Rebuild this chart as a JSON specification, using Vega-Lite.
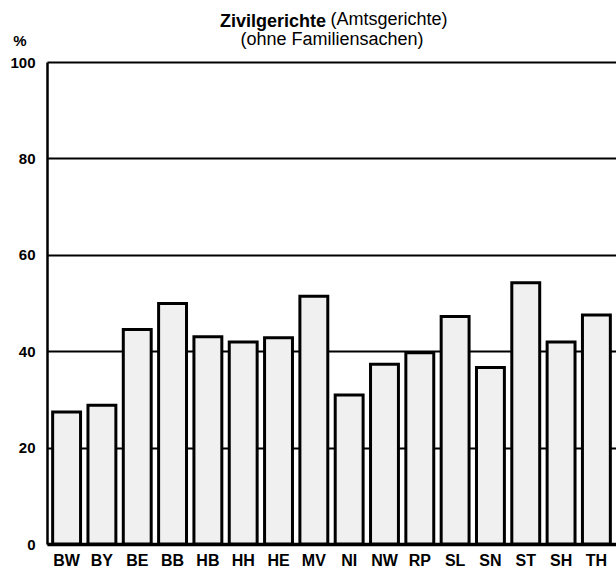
{
  "$schema": "https://vega.github.io/schema/vega-lite/v6.json",
  "autosize": "none",
  "width": 569,
  "height": 482,
  "padding": {"left": 47, "top": 62, "right": 0, "bottom": 30},
  "background": "white",
  "config": {
    "view": {"stroke": null},
    "font": "Liberation Sans"
  },
  "title": {
    "text": "Zivilgerichte",
    "anchor": "start",
    "frame": "group",
    "dx": 173,
    "fontSize": 18,
    "fontWeight": "bold",
    "font": "Liberation Sans",
    "color": "black",
    "offset": -21
  },
  "data": {
    "values": [
      {"land": "BW", "wert": 27.4},
      {"land": "BY", "wert": 28.8},
      {"land": "BE", "wert": 44.5},
      {"land": "BB", "wert": 49.9},
      {"land": "HB", "wert": 43.0},
      {"land": "HH", "wert": 41.9},
      {"land": "HE", "wert": 42.8},
      {"land": "MV", "wert": 51.4},
      {"land": "NI", "wert": 30.9},
      {"land": "NW", "wert": 37.3},
      {"land": "RP", "wert": 39.7},
      {"land": "SL", "wert": 47.2},
      {"land": "SN", "wert": 36.6},
      {"land": "ST", "wert": 54.2},
      {"land": "SH", "wert": 41.9},
      {"land": "TH", "wert": 47.5}
    ]
  },
  "resolve": {"axis": {"x": "independent", "y": "independent"}},
  "layer": [
    {
      "mark": {"type": "bar", "fill": "#f0f0f0", "stroke": "black", "strokeWidth": 3},
      "encoding": {
        "x": {
          "field": "land",
          "type": "nominal",
          "sort": null,
          "scale": {"paddingInner": 0.21, "paddingOuter": 0.16},
          "axis": {
            "orient": "bottom",
            "title": null,
            "labelAngle": 0,
            "labelFontSize": 16,
            "labelFontWeight": "bold",
            "labelColor": "black",
            "labelPadding": 8,
            "ticks": false,
            "domainColor": "black",
            "domainWidth": 3.5
          }
        },
        "y": {
          "field": "wert",
          "type": "quantitative",
          "scale": {"domain": [0, 100]},
          "axis": {
            "orient": "left",
            "values": [0, 20, 40, 60, 80, 100],
            "title": "%",
            "titleAngle": 0,
            "titleAlign": "right",
            "titleBaseline": "bottom",
            "titleX": -21,
            "titleY": -14,
            "titleFontSize": 15,
            "titleFontWeight": "bold",
            "titleColor": "black",
            "labelFontSize": 15,
            "labelFontWeight": "bold",
            "labelColor": "black",
            "labelPadding": 12,
            "ticks": false,
            "domainColor": "black",
            "domainWidth": 2.5,
            "grid": true,
            "gridColor": "black",
            "gridWidth": 2,
            "gridOpacity": 1
          }
        }
      }
    },
    {
      "mark": {"type": "bar", "opacity": 0},
      "encoding": {
        "x": {
          "field": "land",
          "type": "nominal",
          "sort": null,
          "axis": {
            "orient": "top",
            "title": "(ohne Familiensachen)",
            "titleFontSize": 18,
            "titleFontWeight": "normal",
            "titleColor": "black",
            "titleBaseline": "alphabetic",
            "titleY": -18,
            "labels": false,
            "ticks": false,
            "domain": false,
            "grid": false
          }
        },
        "y": {
          "field": "wert",
          "type": "quantitative",
          "axis": {
            "orient": "right",
            "title": "(Amtsgerichte)",
            "titleAngle": 0,
            "titleAlign": "left",
            "titleBaseline": "alphabetic",
            "titleX": -286,
            "titleY": -38,
            "titleFontSize": 18,
            "titleFontWeight": "normal",
            "titleColor": "black",
            "labels": false,
            "ticks": false,
            "domain": false,
            "grid": false
          }
        }
      }
    }
  ]
}
